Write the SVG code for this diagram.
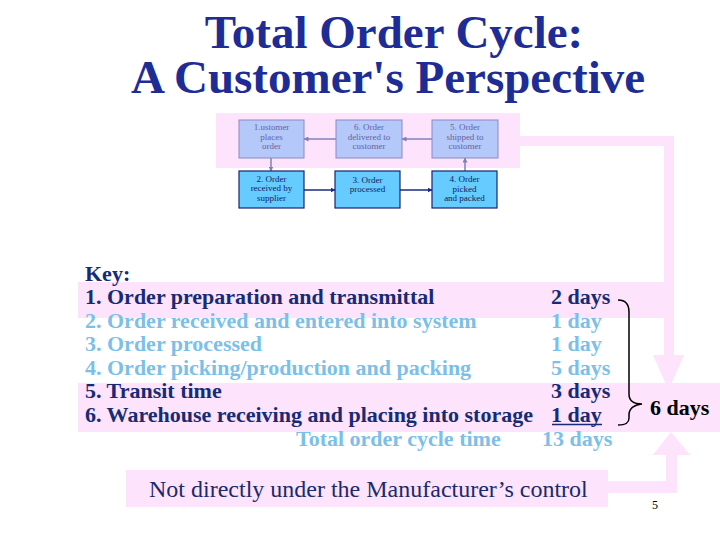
<svg xmlns="http://www.w3.org/2000/svg" width="720" height="540" viewBox="0 0 720 540">
<defs>
<style>
text{font-family:'Liberation Serif',Tinos,'Times New Roman','DejaVu Serif',serif}
.pink{fill:#fde3fb}
.title{font-weight:bold;font-size:47px;fill:#1e2c96;text-anchor:middle}
.key{font-weight:bold;font-size:22px}
.dk{fill:#172b75}
.lt{fill:#7cbfe8}
.ntop rect{fill:#b4c8fa;stroke:#8a8ac8;stroke-width:1}
.nbot rect{fill:#66ccff;stroke:#1a2470;stroke-width:1.2}
.ntxt{font-size:9px;text-anchor:middle}
.ntop text{fill:#6464a4}
.nbot text{fill:#0f1d60}
.ctop{stroke:#8080b8;stroke-width:1.5;fill:none}
.cbot{stroke:#1a2a80;stroke-width:1.5;fill:none}
</style>
<marker id="ahTop" viewBox="0 0 10 10" refX="9" refY="5" markerWidth="5" markerHeight="5" orient="auto" markerUnits="userSpaceOnUse">
<path d="M0,0 L10,5 L0,10 z" fill="#8080b8"/>
</marker>
<marker id="ahBot" viewBox="0 0 10 10" refX="9" refY="5" markerWidth="5" markerHeight="5" orient="auto" markerUnits="userSpaceOnUse">
<path d="M0,0 L10,5 L0,10 z" fill="#1a2a80"/>
</marker>
</defs>
<rect width="720" height="540" fill="#ffffff"/>

<g id="background-shapes">
<rect class="pink" x="216" y="113" width="304" height="55"/>
<rect class="pink" x="520" y="136" width="152" height="10"/>
<rect class="pink" x="664" y="136" width="10" height="220"/>
<polygon class="pink" points="653,355 684,355 668.5,390"/>
<rect class="pink" x="78" y="282" width="594" height="36"/>
<rect class="pink" x="78" y="383" width="642" height="49"/>
<polygon class="pink" points="653,455 690,455 671,432"/>
<rect class="pink" x="666" y="455" width="11" height="38"/>
<rect class="pink" x="605" y="481" width="72" height="12"/>
<rect class="pink" x="126" y="470" width="482" height="37"/>
</g>

<g id="title">
<text class="title" x="394" y="48">Total Order Cycle:</text>
<text class="title" x="388" y="93">A Customer's Perspective</text>
</g>

<g id="connectors">
<line class="ctop" x1="336" y1="139" x2="304" y2="139" marker-end="url(#ahTop)"/>
<line class="ctop" x1="432" y1="139" x2="402" y2="139" marker-end="url(#ahTop)"/>
<line class="ctop" x1="271" y1="158" x2="271" y2="171" marker-end="url(#ahTop)"/>
<line class="ctop" x1="465" y1="171" x2="465" y2="158" marker-end="url(#ahTop)"/>
<line class="cbot" x1="304" y1="190" x2="335" y2="190" marker-end="url(#ahBot)"/>
<line class="cbot" x1="400" y1="190" x2="432" y2="190" marker-end="url(#ahBot)"/>
</g>

<g id="node1" class="ntop">
<rect x="239" y="120" width="65" height="38"/>
<text class="ntxt" x="271.5" y="130">1.ustomer</text>
<text class="ntxt" x="271.5" y="139.5">places</text>
<text class="ntxt" x="271.5" y="149">order</text>
</g>
<g id="node6" class="ntop">
<rect x="336" y="120" width="66" height="38"/>
<text class="ntxt" x="369" y="130">6. Order</text>
<text class="ntxt" x="369" y="139.5">delivered to</text>
<text class="ntxt" x="369" y="149">customer</text>
</g>
<g id="node5" class="ntop">
<rect x="432" y="120" width="66" height="38"/>
<text class="ntxt" x="465" y="130">5. Order</text>
<text class="ntxt" x="465" y="139.5">shipped to</text>
<text class="ntxt" x="465" y="149">customer</text>
</g>
<g id="node2" class="nbot">
<rect x="239" y="171" width="65" height="37"/>
<text class="ntxt" x="271.5" y="181.5">2. Order</text>
<text class="ntxt" x="271.5" y="191">received by</text>
<text class="ntxt" x="271.5" y="200.5">supplier</text>
</g>
<g id="node3" class="nbot">
<rect x="335" y="171" width="65" height="37"/>
<text class="ntxt" x="367.5" y="182.5">3. Order</text>
<text class="ntxt" x="367.5" y="192">processed</text>
</g>
<g id="node4" class="nbot">
<rect x="432" y="171" width="65" height="37"/>
<text class="ntxt" x="464.5" y="182">4. Order</text>
<text class="ntxt" x="464.5" y="191.5">picked</text>
<text class="ntxt" x="464.5" y="201">and packed</text>
</g>

<g id="key">
<text class="key dk" x="85" y="280.5">Key:</text>
<text class="key dk" x="85" y="304">1. Order preparation and transmittal</text>
<text class="key lt" x="85" y="327.6">2. Order received and entered into system</text>
<text class="key lt" x="85" y="351.2">3. Order processed</text>
<text class="key lt" x="85" y="374.8">4. Order picking/production and packing</text>
<text class="key dk" x="85" y="398.4">5. Transit time</text>
<text class="key dk" x="85" y="422">6. Warehouse receiving and placing into storage</text>
<text class="key lt" x="296" y="445.6">Total order cycle time</text>
<text class="key dk" x="551" y="304">2 days</text>
<text class="key lt" x="551" y="327.6">1 day</text>
<text class="key lt" x="551" y="351.2">1 day</text>
<text class="key lt" x="551" y="374.8">5 days</text>
<text class="key dk" x="551" y="398.4">3 days</text>
<text class="key dk" x="551" y="422">1 day</text>
<line x1="552" y1="424.5" x2="602" y2="424.5" stroke="#172b75" stroke-width="1.6"/>
<text class="key lt" x="542" y="445.6">13 days</text>
</g>

<g id="brace">
<path d="M618,300 C626,300 629,304 629,312 L629,394 C629,401 634,404 642,404 C634,405 629,409 629,415 L629,418 C629,423 626,425 618,425" fill="none" stroke="#000" stroke-width="1.5"/>
<text x="650" y="415" font-weight="bold" font-size="22" fill="#000">6 days</text>
</g>

<g id="note">
<text x="149" y="497" font-size="24" fill="#1a2a6c">Not directly under the Manufacturer’s control</text>
</g>

<text x="652" y="509" font-size="12" fill="#000">5</text>
</svg>
